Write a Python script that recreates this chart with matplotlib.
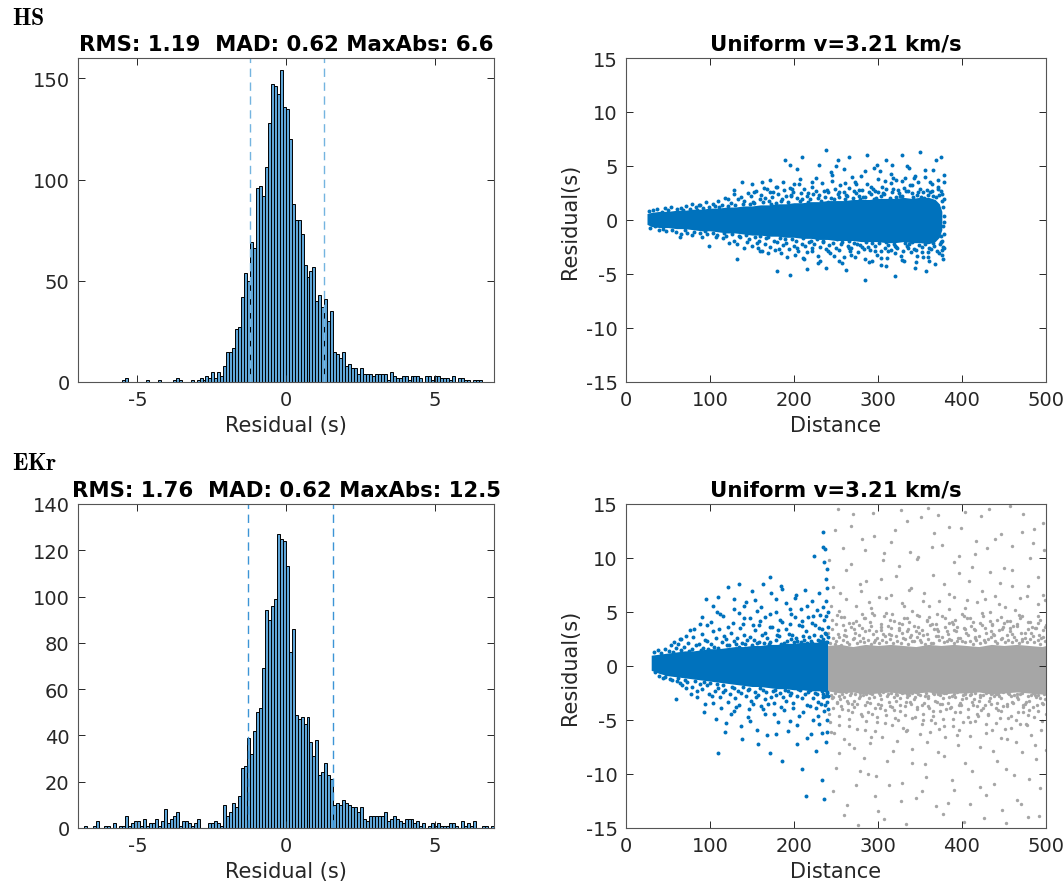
import numpy as np
import matplotlib.pyplot as plt

plt.rcParams['font.family'] = 'DejaVu Sans'
plt.rcParams['axes.unicode_minus'] = False
plt.rcParams['mathtext.fontset'] = 'cm'

# ---- histogram data (bin width 0.1 s) ----
bin_w = 0.1
hs_edge0 = -5.51
hs_counts = [1, 2, 0, 0, 0, 0, 0, 0, 1, 0,
             0, 0, 1, 0, 0, 0, 0, 1, 2, 1,
             0, 0, 0, 1, 0, 1, 2, 1, 3, 2,
             5, 2, 5, 3, 8, 15, 15, 17, 26, 27,
             42, 54, 50, 69, 66, 96, 97, 92, 106, 128,
             147, 146, 142, 154, 136, 135, 120, 88, 80, 80,
             73, 58, 52, 55, 57, 40, 43, 37, 41, 30,
             35, 15, 14, 12, 15, 8, 9, 7, 7, 4,
             7, 4, 4, 4, 3, 4, 4, 4, 4, 1,
             5, 3, 2, 2, 3, 3, 1, 3, 3, 3,
             2, 0, 3, 3, 1, 3, 3, 2, 2, 2,
             1, 3, 0, 2, 2, 1, 1, 0, 1, 1, 1]
ekr_edge0 = -7.01
ekr_counts = [0, 0, 1, 0, 0, 1, 3, 0, 0, 1,
              1, 0, 2, 0, 1, 1, 5, 1, 2, 3,
              3, 1, 4, 1, 2, 2, 4, 1, 3, 8,
              2, 4, 5, 7, 1, 3, 3, 2, 1, 2,
              4, 0, 0, 0, 2, 2, 3, 2, 1,
              10, 5, 7, 11, 9, 14, 26, 27, 39, 32,
              42, 50, 52, 69, 94, 90, 96, 99, 127, 125,
              124, 113, 76, 86, 49, 47, 48, 45, 48, 37,
              31, 38, 23, 24, 28, 23, 21, 10, 11, 10,
              12, 11, 10, 9,
              9, 7, 9, 4, 3, 5, 5, 5, 5, 5,
              7, 3, 4, 5, 4, 3, 2, 4, 4, 4,
              2, 3, 1, 2, 0, 1, 2, 1, 2, 1,
              1, 1, 2, 2, 1, 0, 3, 1, 2, 1,
              3, 0, 0, 1, 1, 0, 1]
hs_lines = [-1.21, 1.28]
ekr_lines = [-1.28, 1.59]
hs_title = 'RMS: 1.19  MAD: 0.62 MaxAbs: 6.6'
ekr_title = 'RMS: 1.76  MAD: 0.62 MaxAbs: 12.5'

# ---- residual vs distance ----
# HS: dense core envelope, fringe points and outliers
hs_core_d = [25, 30, 40, 50, 60, 70, 80, 90, 100, 110, 120, 130, 140, 150, 160, 170, 180, 190, 200,
             210, 220, 230, 240, 250, 260, 270, 280, 290, 300, 310, 320, 330, 340, 350, 360, 368, 373, 376]
hs_core_lo = [-0.4, -0.6, -0.7, -0.7, -0.8, -0.8, -0.9, -1.0, -1.0, -1.1, -1.2, -1.2, -1.3, -1.4, -1.4,
              -1.5, -1.5, -1.6, -1.6, -1.7, -1.7, -1.8, -1.8, -1.9, -1.9, -1.9, -2.0, -2.0, -2.0, -2.1,
              -2.1, -2.0, -2.1, -2.1, -2.2, -2.0, -1.6, -0.9]
hs_core_hi = [0.6, 0.7, 0.8, 0.8, 0.9, 0.9, 1.0, 1.0, 1.1, 1.1, 1.2, 1.2, 1.3, 1.3, 1.4, 1.4, 1.5, 1.5,
              1.6, 1.6, 1.7, 1.7, 1.8, 1.8, 1.8, 1.9, 1.9, 1.9, 2.0, 2.0, 2.0, 2.1, 2.0, 2.1, 2.1, 1.9,
              1.5, 0.8]
hs_fringe = [(27, 0.8), (29, -0.7), (32, 0.9), (34, -0.6), (35, 0.5), (37, 1.0), (39, -0.9), (43, 0.7),
             (44, -0.8), (46, 1.1), (48, -1.0), (50, 0.9), (54, 1.2), (55, -0.9), (57, 0.6), (59, -1.1),
             (61, 1.0), (65, 1.1), (66, -1.3), (68, 0.9), (70, -0.9), (72, 1.3), (73, -1.2), (76, 1.0),
             (78, -1.4), (79, 1.5), (81, -1.1), (83, 1.2), (84, 0.9), (87, 1.4), (88, -1.2), (90, -1.6),
             (92, 1.1), (94, -1.0), (95, 1.7), (97, -1.3), (99, 1.2), (103, 1.5), (104, -1.2), (106, 1.3),
             (107, -1.6), (108, -1.4), (110, 1.8), (111, 1.2), (114, 1.4), (115, -1.7), (117, -1.2),
             (118, 2.0), (119, -1.5), (121, 1.3), (122, 1.9), (123, -2.1), (125, 1.6), (126, -1.3),
             (128, -1.9), (129, 2.4), (130, 1.4), (132, -2.2), (133, 1.9), (134, -1.5), (136, -1.6),
             (137, 2.1), (139, 1.5), (140, -2.6), (141, 1.8), (143, -1.4), (144, -2.0), (145, 2.5),
             (147, -1.8), (148, 1.5), (149, 2.2), (150, -2.4), (151, 1.7), (152, 1.6), (154, -1.6),
             (155, 2.7), (156, -2.1), (158, -1.9), (159, 1.9), (160, -1.5), (161, 2.3), (162, -2.9),
             (163, 1.7), (165, -2.2), (166, 2.0), (167, -1.7), (168, 2.9), (169, -1.6), (170, 1.8),
             (171, -2.5), (172, 2.6), (173, 1.5), (174, 2.1), (176, -1.9), (177, -2.8), (178, 1.6),
             (179, 3.1), (180, -2.0), (181, 2.4), (183, -1.7), (184, 1.8), (185, -3.1), (186, 1.9),
             (187, -2.3), (188, 2.8), (189, -1.8), (190, 2.2), (191, -2.1), (193, 1.7), (194, -2.7),
             (195, 3.0), (196, 2.3), (197, 2.2), (198, -1.8), (199, 2.6), (200, -2.4), (201, -3.2),
             (202, -1.9), (204, 2.0), (205, -2.9), (206, 3.3), (207, 1.8), (208, 2.5), (209, -2.2),
             (210, 1.9), (211, -1.7), (212, 2.9), (213, -2.4), (215, 2.2), (216, -3.0), (217, 1.7),
             (218, -2.0), (219, 1.9), (220, -1.9), (221, 3.1), (222, -2.6), (223, 2.4), (224, -2.2),
             (226, 2.7), (227, -1.8), (228, 2.0), (229, -3.3), (230, 2.3), (231, -2.5), (232, 1.8),
             (233, 3.4), (234, -2.0), (235, -1.9), (237, 2.1), (238, -2.7), (239, 2.8), (240, 1.7),
             (241, 2.6), (242, -2.3), (243, -3.1), (244, 2.0), (245, 3.6), (246, -2.1), (248, 1.9),
             (249, 2.9), (250, -2.6), (251, -1.8), (252, 2.4), (253, -2.8), (254, 2.1), (255, 3.2),
             (256, -2.2), (257, -2.0), (259, 2.6), (260, -3.4), (261, 1.9), (262, 2.3), (263, 2.2),
             (264, -2.4), (265, 3.0), (266, -1.9), (267, -2.9), (268, -2.6), (270, 2.0), (271, 2.7),
             (272, -2.1), (273, 3.5), (274, 2.5), (275, -2.2), (276, -3.0), (277, 2.2), (278, 1.9),
             (279, -2.3), (281, 2.8), (282, 2.1), (283, -2.7), (284, -3.6), (285, 2.1), (286, -2.0),
             (287, 3.3), (288, -2.5), (289, 2.6), (290, -2.8), (292, 2.4), (293, -2.1), (294, 2.9),
             (295, 1.9), (296, 2.7), (297, -2.4), (298, 2.0), (299, -3.2), (300, 3.8), (301, -2.1),
             (303, 2.2), (304, -2.9), (305, 3.1), (306, 2.5), (307, 2.4), (308, -2.6), (309, 2.9),
             (310, -2.0), (311, -3.5), (312, -2.3), (314, 2.0), (315, 3.4), (316, -2.8), (317, 2.6),
             (318, 2.9), (319, -2.2), (320, -3.1), (321, 2.1), (322, -2.5), (323, -2.6), (325, 2.5),
             (326, 2.2), (327, -3.3), (328, 3.6), (329, 2.2), (330, -2.9), (331, 3.0), (332, -2.1),
             (333, 2.7), (334, -2.4), (336, 2.7), (337, -2.2), (338, 3.2), (339, -3.0), (340, 2.5),
             (341, -2.0), (342, 2.1), (343, -2.7), (344, 4.1), (345, -2.8), (347, 2.3), (348, 3.5),
             (349, -2.3), (350, 2.9), (351, 2.1), (352, -2.5), (353, -3.4), (354, 2.6), (355, 2.0),
             (356, -2.2), (358, 2.8), (359, 2.3), (360, -3.0), (361, -2.6), (362, 2.6), (363, -2.7),
             (364, 3.3), (365, -2.1), (366, 2.2), (367, -2.4), (369, 2.1), (370, -2.9), (371, 2.9),
             (372, 3.7), (373, 2.3), (374, -2.2), (375, 2.7), (376, -3.2), (377, -2.5), (378, 1.9),
             (378, -2.6), (376, 2.4), (375, -2.0), (377, 1.2), (378, -1.3), (376, 1.8), (377, -0.6),
             (378, 0.4), (375, -1.5), (379, -0.2), (376, -1.9),
             (152, 2.6), (157, -2.6), (164, 3.0), (169, -3.1), (175, 2.6), (182, -2.7), (187, 3.5),
             (192, -3.4), (198, 2.9), (203, -2.6), (207, 3.8), (212, -3.6), (217, 2.5), (222, -2.9),
             (226, 3.9), (231, -3.8), (236, 2.7), (240, -2.9), (244, 4.4), (248, -3.3), (253, 2.6),
             (257, -4.0), (261, 3.4), (265, -2.6), (269, 4.0), (273, -3.4), (277, 2.8), (281, -2.5),
             (285, 4.5), (289, -3.9), (292, 3.1), (296, -2.9), (300, 2.6), (304, -4.2), (308, 3.6),
             (312, -2.9), (316, 4.3), (320, -2.4), (324, 2.8), (328, -3.7), (332, 3.9), (336, -2.6),
             (340, 3.2), (344, -4.4), (348, 2.6), (352, -3.0), (356, 4.0), (360, -3.4), (364, 2.7),
             (368, -4.1), (372, 3.1), (376, -2.8), (378, 3.5), (377, -3.6), (200, 3.3), (215, -4.5),
             (250, 5.0), (262, -4.6), (299, 5.1), (310, -4.3), (334, 5.0), (357, -4.7), (366, 4.6),
             (345, -3.9), (318, 3.9)]
hs_outliers = [(88, 1.4), (129, 2.8), (138, 3.5), (150, 3.3), (162, 3.5), (171, 3.7), (180, 3.1),
               (189, 5.6), (195, 5.1), (203, 4.7), (210, 5.8), (222, 3.5), (230, 5.1), (238, 6.5),
               (245, 4.2), (252, 5.6), (260, 4.7), (266, 5.8), (274, 3.3), (280, 4.1), (287, 6.0),
               (295, 4.8), (302, 4.5), (309, 5.6), (317, 5.1), (322, 3.7), (329, 6.0), (337, 4.8),
               (343, 3.9), (350, 6.3), (356, 4.6), (362, 3.5), (369, 5.6), (375, 5.8), (378, 4.2),
               (64, -1.6), (99, -2.4), (132, -3.6), (159, -2.9), (180, -4.7), (195, -5.1), (211, -3.5),
               (228, -4.0), (238, -4.4), (254, -3.8), (268, -3.2), (284, -5.6), (293, -3.8), (304, -3.5),
               (320, -5.2), (331, -3.8), (347, -3.3), (361, -3.8), (373, -3.1)]

# EKr, distance < 240 km (blue)
ekr_core_d = [30, 40, 50, 60, 70, 80, 90, 100, 110, 120, 130, 140, 150, 160, 170, 180, 190, 200,
              210, 220, 230, 240]
ekr_core_lo = [-0.4, -0.7, -0.9, -1.0, -1.1, -1.2, -1.3, -1.4, -1.5, -1.6, -1.7, -1.8, -1.9, -1.9,
               -2.0, -2.1, -2.1, -2.2, -2.2, -2.3, -2.3, -2.4]
ekr_core_hi = [1.0, 1.1, 1.2, 1.3, 1.4, 1.4, 1.5, 1.6, 1.6, 1.7, 1.8, 1.8, 1.9, 1.9, 2.0, 2.0, 2.1,
               2.1, 2.2, 2.2, 2.2, 2.3]
ekr_fringe = [(33, 1.3), (34, -0.6), (37, 0.6), (38, 1.5), (39, -0.9), (42, 1.2), (44, -1.1), (46, 1.6),
              (47, -1.0), (48, -0.7), (51, 1.4), (52, -1.2), (53, 1.9), (55, -1.3), (56, 1.3), (57, 2.2),
              (60, 1.7), (61, -1.4), (62, -1.1), (64, -1.6), (65, 1.5), (66, 2.5), (69, 1.8), (70, -1.3),
              (71, -2.0), (73, -1.5), (74, 2.1), (75, 1.4), (78, 1.6), (79, -1.9), (80, 2.7), (82, -1.4),
              (83, 1.9), (84, -2.3), (87, 2.0), (88, -1.7), (89, 1.5), (90, 3.0), (91, -2.1), (92, 1.7),
              (93, -1.5), (94, 2.4), (96, 2.3), (97, -1.8), (98, 1.6), (99, -2.6), (100, -1.6), (101, 2.0),
              (102, -2.8), (103, 3.2), (105, 1.8), (106, -2.3), (107, 2.6), (108, -1.7), (109, -2.0),
              (110, 1.7), (111, 3.4), (112, -2.9), (114, 2.2), (115, -1.8), (116, -2.4), (117, 2.8),
              (118, -2.2), (119, 2.5), (120, 1.9), (121, -3.3), (123, 1.9), (124, -2.6), (125, 3.1),
              (126, -1.9), (127, 4.0), (128, -2.0), (129, 2.3), (130, -3.0), (131, 2.0), (132, 2.6),
              (133, -2.3), (134, 1.8), (135, -3.6), (136, 3.5), (137, -2.5), (138, 2.1), (139, -1.9),
              (140, 2.9), (141, 4.4), (142, 2.0), (143, -2.8), (144, 2.4), (145, -2.2), (146, -4.0),
              (147, -2.1), (148, 2.7), (149, -3.2), (150, 1.9), (151, 3.8), (152, 2.4), (153, -2.4),
              (154, 3.3), (155, -2.9), (156, 2.1), (157, -2.7), (158, 2.2), (159, -2.0), (160, 4.2),
              (161, -3.7), (162, 2.9), (163, -2.2), (164, 2.1), (165, -3.1), (166, 3.1), (167, -2.4),
              (168, 2.6), (169, -3.5), (170, 2.0), (171, 4.8), (172, 2.2), (173, -2.9), (174, 3.6),
              (175, -2.3), (176, -4.4), (177, -2.2), (178, 2.4), (179, -2.7), (180, 2.9), (181, 3.3),
              (182, 2.8), (183, -2.5), (184, 2.0), (185, -3.8), (186, 4.1), (187, -2.9), (188, 2.1),
              (189, -2.2), (190, 3.4), (191, -3.2), (192, 2.3), (193, -2.3), (194, 3.0), (195, -2.7),
              (196, 2.5), (197, -2.5), (198, 2.9), (199, -3.4), (200, 2.2), (201, 4.5), (202, 2.6),
              (203, -2.8), (204, 2.3), (205, -2.1), (206, -4.6), (207, -2.2), (208, 2.2), (209, -3.0),
              (210, 3.7), (211, 2.8), (212, 2.4), (213, -2.6), (214, 3.2), (215, -3.6), (216, 2.1),
              (217, -2.4), (218, 2.7), (219, -2.2), (220, 2.3), (221, 4.0), (222, 2.1), (223, -3.0),
              (224, 2.9), (225, -2.5), (226, -3.9), (227, -2.6), (228, 2.4), (229, -3.3), (230, 3.5),
              (231, 2.2), (232, 2.8), (233, -2.3), (234, 2.2), (235, -2.9), (236, 4.3), (237, -2.8),
              (238, 2.2), (239, -2.4), (237, 3.1), (236, -4.2), (235, 2.5), (234, -2.6), (233, 3.4),
              (232, -3.5), (231, 2.3), (239, 2.2), (239, -2.5), (238, 4.6), (239, -3.3), (238, 6.0),
              (239, -5.0), (238, 3.0),
              (62, 2.0), (67, -1.8), (72, 2.8), (77, -2.6), (81, 3.4), (85, -2.9), (90, 4.5), (94, -3.5),
              (97, 3.8), (101, 4.1), (104, -3.4), (108, 5.0), (113, -3.9), (116, 4.6), (119, -5.3),
              (122, 3.6), (125, -4.4), (128, 5.3), (131, -3.8), (134, 4.9), (137, -5.6), (139, 3.9),
              (143, 5.9), (145, -4.7), (148, 4.4), (151, -3.5), (153, 6.1), (156, -5.9), (158, 3.8),
              (161, 5.5), (163, -4.0), (166, 4.5), (168, -6.4), (171, 3.6), (173, 6.8), (176, -3.4),
              (178, 5.0), (181, -5.2), (183, 4.3), (185, 7.4), (188, -4.1), (190, 5.8), (193, -6.0),
              (195, 3.9), (197, 4.8), (199, -3.9), (201, 6.3), (204, -5.5), (206, 3.8), (208, 5.3),
              (211, -4.3), (213, 7.0), (215, -6.7), (217, 4.5), (219, -3.7), (221, 6.0), (223, -5.0),
              (225, 3.8), (227, 5.2), (229, -4.6), (231, 4.7), (233, -6.2), (235, 5.5), (237, -3.6),
              (239, 7.2), (240, -4.0), (240, 3.6), (240, -2.8), (239, 9.0), (238, -7.0), (240, 5.0),
              (239, -6.1), (237, 10.8), (240, 2.7)]
ekr_outliers = [(64, 2.5), (76, 3.3), (88, 3.9), (95, 6.2), (103, 5.6), (109, 6.4), (112, 4.8),
                (121, 7.3), (129, 6.2), (135, 7.6), (141, 5.6), (150, 6.9), (156, 5.1), (163, 7.6),
                (171, 8.2), (178, 6.2), (186, 7.1), (195, 5.3), (202, 6.6), (209, 4.2), (216, 5.6),
                (223, 4.6), (230, 6.8), (234, 12.4), (235, 11.0), (236, 9.6), (238, 8.1), (224, 10.2),
                (59, -3.1), (93, -4.3), (107, -4.9), (110, -8.1), (118, -6.1), (129, -4.2), (138, -6.8),
                (148, -5.1), (157, -7.2), (165, -4.4), (172, -8.1), (179, -6.3), (186, -8.8), (195, -5.1),
                (203, -7.2), (210, -9.5), (214, -12.0), (220, -6.3), (226, -7.9), (233, -10.6),
                (236, -12.3), (230, -5.4)]

# EKr, distance > 240 km (gray)
far_core_d = [240, 255, 270, 285, 300, 315, 330, 345, 360, 375, 390, 405, 420, 435, 450, 465, 480, 495, 500]
far_core_lo = [-2.3, -2.5, -2.4, -2.6, -2.5, -2.4, -2.6, -2.5, -2.4, -2.6, -2.5, -2.5, -2.4, -2.6,
               -2.5, -2.4, -2.5, -2.6, -2.5]
far_core_hi = [1.9, 2.0, 1.8, 2.0, 1.9, 2.0, 1.9, 1.8, 2.0, 1.9, 2.0, 1.9, 1.8, 2.0, 1.9, 2.0, 1.9, 1.8, 1.9]
far_fringe = [(243, 2.1), (244, -2.7), (245, 3.4), (246, -3.9), (247, 2.6), (243, -5.2), (245, 4.3), (247, -2.9),
              (249, -2.5), (250, 2.3), (251, -3.3), (252, 3.0), (253, -4.6), (249, 2.0), (251, 4.7), (253, -2.8),
              (254, 2.7), (255, -3.1), (256, 1.9), (257, -2.6), (258, 3.8), (254, -5.5), (256, -3.7), (258, 2.4),
              (260, -2.9), (261, 3.3), (262, -2.4), (263, 2.2), (264, -4.1), (260, 4.5), (262, 2.8), (264, -3.4),
              (266, 2.0), (267, -2.7), (268, 3.6), (269, -3.5), (270, 2.5), (266, -4.9), (268, -2.5), (270, 4.0),
              (271, -3.2), (272, 2.6), (273, -2.6), (274, 4.2), (275, 2.1), (271, -3.8), (273, 3.1), (275, -5.8),
              (277, 2.9), (278, -2.5), (279, 2.3), (280, -4.4), (281, 3.5), (277, -3.0), (279, -2.8), (281, 4.8),
              (282, -2.7), (283, 2.2), (284, -3.6), (285, 3.2), (286, -5.1), (282, 2.6), (284, 4.4), (286, -2.6),
              (288, 2.4), (289, -3.0), (290, 4.1), (291, -2.5), (292, 2.0), (288, -4.3), (290, -3.4), (292, 3.7),
              (293, -2.6), (294, 3.0), (295, -2.9), (296, 2.4), (297, -3.9), (293, 4.9), (295, 2.2), (297, -6.0),
              (299, 2.6), (300, -3.5), (301, 2.1), (302, -2.7), (303, 3.9), (299, -4.7), (301, -2.5), (303, 3.3),
              (304, -3.1), (305, 2.4), (306, -2.4), (307, 4.6), (308, 2.8), (304, -3.6), (306, 3.0), (308, -5.3),
              (310, 2.2), (311, -2.8), (312, 3.7), (313, -3.3), (314, 2.5), (310, -4.5), (312, -2.6), (314, 4.3),
              (315, -2.5), (316, 2.9), (317, -3.8), (318, 2.1), (319, -2.9), (315, 3.5), (317, 4.8), (319, -4.1),
              (321, 2.8), (322, -2.6), (323, 2.3), (324, -5.0), (325, 3.3), (321, -3.2), (323, -2.7), (325, 4.0),
              (326, -3.0), (327, 2.1), (328, -2.5), (329, 3.9), (330, 2.6), (326, -4.2), (328, 3.1), (330, -5.7),
              (332, 2.5), (333, -3.3), (334, 4.4), (335, -2.6), (336, 2.0), (332, -3.7), (334, -2.9), (336, 3.4),
              (337, -2.7), (338, 2.7), (339, -3.5), (340, 2.3), (341, -4.8), (337, 4.1), (339, 2.9), (341, -2.5),
              (343, 2.3), (344, -2.9), (345, 3.2), (346, -4.0), (347, 2.7), (343, -3.1), (345, -2.4), (347, 4.7),
              (348, -2.6), (349, 3.1), (350, -2.7), (351, 2.2), (352, -5.4), (348, 3.6), (350, 2.4), (352, -3.6),
              (354, 2.9), (355, -3.4), (356, 2.0), (357, -2.5), (358, 4.2), (354, -4.4), (356, -2.8), (358, 3.0),
              (359, -2.8), (360, 2.5), (361, -3.9), (362, 3.8), (363, 2.1), (359, -3.0), (361, 4.5), (363, -5.0),
              (365, 2.1), (366, -2.5), (367, 3.4), (368, -3.2), (369, 2.8), (365, -4.6), (367, -2.6), (369, 3.9),
              (370, -3.3), (371, 2.8), (372, -2.6), (373, 2.4), (374, -4.2), (370, 4.8), (372, 3.2), (374, -2.7),
              (376, 2.7), (377, -3.0), (378, 2.2), (379, -5.6), (380, 3.6), (376, -3.5), (378, -2.5), (380, 4.4),
              (381, -2.5), (382, 2.3), (383, -3.4), (384, 4.0), (385, 2.5), (381, -4.0), (383, 3.0), (385, -2.9),
              (387, 2.4), (388, -2.8), (389, 3.9), (390, -2.6), (391, 2.1), (387, -3.8), (389, -4.9), (391, 3.3),
              (392, -2.9), (393, 3.2), (394, -2.4), (395, 2.6), (396, -3.6), (392, 4.3), (394, 2.3), (396, -5.9),
              (398, 2.6), (399, -3.6), (400, 2.3), (401, -2.7), (402, 3.5), (398, -4.3), (400, -3.1), (402, 4.6),
              (403, -2.6), (404, 2.2), (405, -3.0), (406, 4.4), (407, 2.9), (403, -2.5), (405, 3.1), (407, -4.7),
              (409, 2.3), (410, -2.7), (411, 3.7), (412, -3.3), (413, 2.0), (409, -5.2), (411, -2.6), (413, 4.1),
              (414, -3.1), (415, 2.7), (416, -2.5), (417, 2.4), (418, -4.4), (414, 3.4), (416, 2.6), (418, -3.7),
              (420, 2.8), (421, -2.9), (422, 2.1), (423, -4.1), (424, 3.8), (420, -3.2), (422, -2.7), (424, 4.9),
              (425, -2.7), (426, 2.4), (427, -3.6), (428, 3.1), (429, -2.5), (425, 4.6), (427, 2.2), (429, -5.4),
              (431, 2.5), (432, -3.2), (433, 4.2), (434, -2.6), (435, 2.7), (431, -4.5), (433, -3.0), (435, 3.2),
              (436, -2.5), (437, 3.0), (438, -2.8), (439, 2.3), (440, -3.9), (436, 3.9), (438, 2.9), (440, -2.6),
              (442, 2.1), (443, -2.6), (444, 3.3), (445, -4.8), (446, 2.5), (442, -3.4), (444, -2.8), (446, 4.5),
              (447, -3.0), (448, 2.6), (449, -2.4), (450, 4.0), (451, 2.2), (447, -4.2), (449, 3.6), (451, -5.8),
              (453, 2.9), (454, -3.5), (455, 2.4), (456, -2.6), (457, 3.5), (453, -3.7), (455, -2.5), (457, 4.2),
              (458, -2.8), (459, 2.2), (460, -3.3), (461, 3.7), (462, 2.7), (458, -4.6), (460, 3.0), (462, -2.7),
              (464, 2.4), (465, -2.9), (466, 3.9), (467, -3.1), (468, 2.1), (464, -5.0), (466, -2.6), (468, 4.7),
              (469, -2.6), (470, 3.1), (471, -2.5), (472, 2.5), (473, -3.8), (469, 4.4), (471, 2.3), (473, -4.3),
              (475, 2.6), (476, -3.3), (477, 2.2), (478, -2.8), (479, 4.1), (475, -3.5), (477, -5.5), (479, 3.4),
              (480, -3.2), (481, 2.5), (482, -2.7), (483, 3.6), (484, 2.8), (480, -4.1), (482, 3.1), (484, -2.5),
              (486, 2.2), (487, -2.7), (488, 3.5), (489, -3.6), (490, 2.4), (486, -4.7), (488, -2.9), (490, 4.0),
              (491, -2.7), (492, 2.9), (493, -3.0), (494, 2.6), (495, -3.4), (491, 4.6), (493, 2.0), (495, -5.1),
              (497, 2.7), (498, -2.5), (499, 2.3), (500, -4.4), (497, 3.3), (499, -3.1), (498, -2.6), (500, 3.8),
              (241, 3.1), (242, -4.4), (244, 5.6), (245, -3.0), (247, 7.3), (248, -6.2), (250, 3.9), (251, -3.4),
              (253, 5.1), (254, -8.1), (256, 4.5), (257, -4.0), (259, 2.9), (260, -6.8), (262, 6.2), (263, -3.2),
              (265, 4.0), (266, -5.6), (268, 9.4), (269, -4.3), (271, 3.4), (272, -7.6), (274, 5.6), (275, -3.5),
              (277, 3.8), (278, -9.7), (280, 6.9), (281, -4.6), (283, 4.4), (284, -5.9), (286, 7.9), (287, -3.3),
              (289, 3.3), (290, -7.1), (292, 5.4), (293, -4.4), (295, 4.7), (296, -12.0), (298, 3.2), (299, -5.2),
              (301, 6.4), (302, -3.9), (304, 3.6), (305, -6.6), (307, 10.5), (308, -4.1), (310, 4.9), (311, -8.8),
              (313, 3.0), (314, -3.7), (316, 6.6), (317, -5.5), (319, 4.2), (320, -4.8), (322, 8.3), (323, -6.9),
              (325, 3.5), (326, -3.6), (328, 5.8), (329, -10.8), (331, 4.4), (332, -4.5), (334, 3.2), (335, -5.9),
              (337, 7.0), (338, -3.3), (340, 5.1), (341, -7.7), (343, 3.7), (344, -4.7), (346, 9.9), (347, -3.8),
              (349, 4.6), (350, -6.3), (352, 3.3), (353, -5.0), (355, 6.8), (356, -9.1), (358, 4.3), (359, -3.7),
              (361, 5.6), (362, -6.1), (364, 3.9), (365, -4.2), (367, 12.3), (368, -5.3), (370, 3.4), (371, -8.0),
              (373, 6.0), (374, -3.5), (376, 4.6), (377, -4.9), (379, 7.6), (380, -6.6), (382, 3.2), (383, -12.7),
              (385, 5.3), (386, -3.9), (388, 4.1), (389, -5.6), (391, 6.4), (392, -4.3), (394, 3.6), (395, -7.3),
              (397, 8.6), (398, -3.4), (400, 4.8), (401, -5.2), (403, 3.4), (404, -9.0), (406, 6.1), (407, -4.0),
              (409, 4.4), (410, -6.5), (412, 9.2), (413, -3.6), (415, 3.3), (416, -5.1), (418, 5.9), (419, -4.6),
              (421, 4.0), (422, -11.2), (424, 6.9), (425, -3.9), (427, 3.5), (428, -6.2), (430, 10.9), (431, -4.4),
              (433, 5.0), (434, -3.5), (436, 3.8), (437, -7.9), (439, 6.5), (440, -5.3), (442, 4.3), (443, -4.1),
              (445, 7.7), (446, -6.7), (448, 3.4), (449, -3.7), (451, 5.5), (452, -9.5), (454, 4.2), (455, -4.8),
              (457, 3.2), (458, -5.7), (460, 8.9), (461, -3.4), (463, 5.2), (464, -7.0), (466, 3.7), (467, -4.3),
              (469, 6.3), (470, -12.8), (472, 4.6), (473, -3.6), (475, 3.1), (476, -5.4), (478, 7.4), (479, -4.5),
              (481, 4.1), (482, -6.4), (484, 11.4), (485, -3.8), (487, 3.5), (488, -8.6), (490, 5.7), (491, -4.2),
              (493, 4.3), (494, -5.9), (496, 6.6), (497, -3.5), (499, 3.6), (500, -7.8)]
far_outliers = [(242, 9.8), (244, -6.1), (249, 12.6), (250, -9.4), (255, 6.8), (259, -13.8), (262, 8.9),
                (265, -7.2), (270, 14.1), (274, -11.0), (279, 7.6), (283, -8.5), (285, 10.7), (289, 5.9),
                (292, -6.6), (295, 12.0), (298, -10.2), (304, 8.1), (307, -14.2), (310, 6.3), (315, 11.5),
                (318, -7.9), (325, 9.3), (327, -12.5), (331, 5.6), (333, -6.0), (334, 13.4), (339, 7.2),
                (340, -9.0), (348, 10.1), (352, -11.6), (354, 6.0), (358, -7.0), (360, 14.6), (366, 8.4),
                (369, -13.0), (373, -5.8), (376, 11.2), (379, -8.3), (385, 6.7), (388, -10.6), (391, 9.6),
                (394, -6.4), (399, 12.8), (402, -14.4), (403, 5.4), (408, 7.9), (412, -9.7), (415, 10.4),
                (421, -7.5), (423, 13.9), (427, 6.2), (429, -11.9), (433, 8.7), (436, -5.9), (439, 11.8),
                (442, -8.8), (444, 5.7), (448, -13.3), (450, 9.1), (454, -6.8), (457, 14.8), (460, 7.4),
                (462, -10.1), (469, -5.4), (471, 12.4), (472, -8.0), (477, 6.5), (478, -14.0), (481, 10.0),
                (487, -7.3), (490, 8.2), (493, -11.3), (496, 13.2), (499, 6.1),
                (246, -11.6), (252, 14.5), (258, 10.9), (263, -12.9), (268, 13.0), (276, -14.7), (281, 11.8),
                (288, -10.0), (294, 14.2), (300, -13.4), (306, 9.8), (313, -11.0), (320, 12.6), (327, 14.4),
                (333, -14.6), (338, 10.6), (345, -12.2), (351, 13.8), (357, -10.3), (364, 11.0), (371, 14.0),
                (377, -13.7), (384, 12.9), (390, -11.5), (396, 10.2), (404, 14.3), (410, -12.8), (417, 11.6),
                (426, -14.1), (432, 14.5), (438, -10.9), (446, 12.2), (452, -14.5), (459, 11.1), (465, -12.4),
                (473, 14.1), (480, -10.5), (486, 12.7), (492, -13.9), (498, 10.7)]

BLUE = '#0072BD'
GRAY = '#A6A6A6'
BAR = '#5FA6D8'
W, H = 1064, 887


def box(l, t, r, b):
    return [l / W, 1 - b / H, (r - l) / W, (b - t) / H]


def style(ax):
    for s in ax.spines.values():
        s.set_color('#555555')
        s.set_linewidth(0.8)
    ax.tick_params(direction='in', length=5, width=0.7, colors='#262626',
                   labelsize=14, top=True, right=True, pad=6)


def hist_panel(ax, edge0, counts, lines, title, ylim, yticks, lc):
    counts = np.array(counts)
    left = edge0 + bin_w * np.arange(len(counts))
    ax.bar(left, counts, width=bin_w, align='edge', color=BAR,
           edgecolor='black', linewidth=0.7)
    for v in lines:
        ax.axvline(v, color=lc, linestyle=(0, (6, 4)), linewidth=1.0)
    ax.set_xlim(-7, 7)
    ax.set_ylim(*ylim)
    ax.set_xticks([-5, 0, 5])
    ax.set_yticks(yticks)
    ax.set_xlabel('Residual (s)', fontsize=15, color='#262626')
    ax.set_title(title, fontsize=15.3, fontweight='bold', pad=6)
    style(ax)


def scatter_panel(ax):
    ax.set_xlim(0, 500)
    ax.set_ylim(-15, 15)
    ax.set_xticks(np.arange(0, 501, 100))
    ax.set_yticks(np.arange(-15, 16, 5))
    ax.set_xlabel('Distance', fontsize=15, color='#262626')
    ax.set_ylabel('Residual(s)', fontsize=15, color='#262626')
    ax.set_title('Uniform v=3.21 km/s', fontsize=15.3, fontweight='bold', pad=6)
    style(ax)


def cloud(ax, d, lo, hi, pts, color, s):
    ax.fill_between(d, lo, hi, color=color, linewidth=0)
    p = np.array(pts)
    ax.scatter(p[:, 0], p[:, 1], s=s, color=color, linewidths=0)


fig = plt.figure(figsize=(W / 100, H / 100), dpi=100)

ax1 = fig.add_axes(box(78, 59, 494, 383))
hist_panel(ax1, hs_edge0, hs_counts, hs_lines, hs_title, (0, 160), [0, 50, 100, 150], '#74B4E0')

ax2 = fig.add_axes(box(626, 59, 1046, 383))
cloud(ax2, hs_core_d, hs_core_lo, hs_core_hi, hs_fringe + hs_outliers, BLUE, 8)
scatter_panel(ax2)

ax3 = fig.add_axes(box(78, 505, 494, 829))
hist_panel(ax3, ekr_edge0, ekr_counts, ekr_lines, ekr_title, (0, 140), np.arange(0, 141, 20), '#3C94D6')

ax4 = fig.add_axes(box(626, 505, 1046, 829))
cloud(ax4, far_core_d, far_core_lo, far_core_hi, far_fringe + far_outliers, GRAY, 6)
cloud(ax4, ekr_core_d, ekr_core_lo, ekr_core_hi, ekr_fringe + ekr_outliers, BLUE, 8)
scatter_panel(ax4)

fig.text(12 / W, 1 - 18 / H, r'$\mathbf{HS}$', fontsize=17, va='center', ha='left')
fig.text(12 / W, 1 - 463 / H, r'$\mathbf{EKr}$', fontsize=17, va='center', ha='left')

fig.savefig('out.png', dpi=100)
